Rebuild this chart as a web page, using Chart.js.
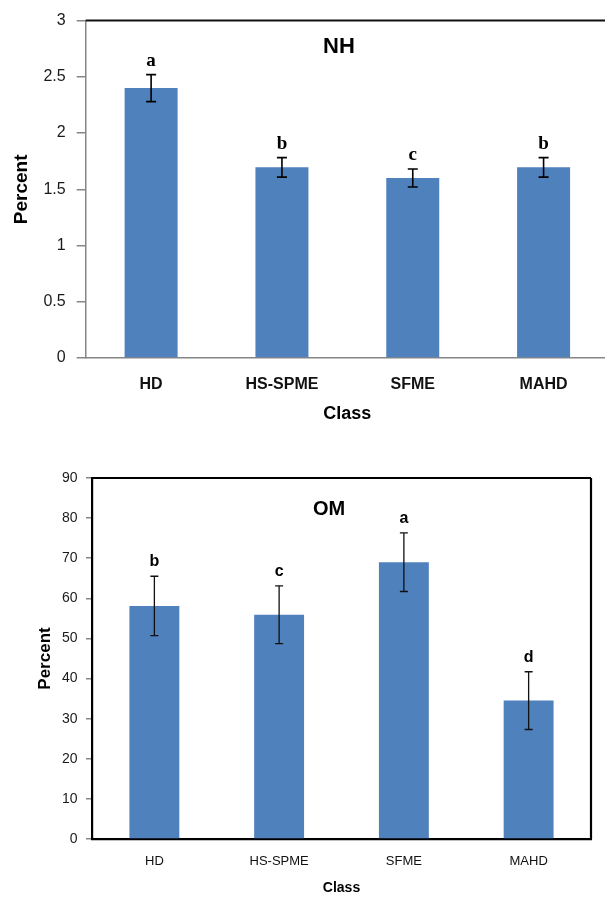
<!DOCTYPE html>
<html>
<head>
<meta charset="utf-8">
<script src="https://cdn.jsdelivr.net/npm/chart.js@4.4.1/dist/chart.umd.min.js"></script>
<style>
  html, body { margin: 0; padding: 0; background: #fff; overflow: hidden; width: 605px; height: 897px; }
  #nh { position: absolute; left: 0; top: 0; }
  #om { position: absolute; left: 0; top: 440px; }
</style>
</head>
<body>
<canvas id="nh" width="620" height="440"></canvas>
<canvas id="om" width="605" height="457"></canvas>
<script>
// data
const classes = ['HD', 'HS-SPME', 'SFME', 'MAHD'];

const nhMeans = [2.40, 1.695, 1.60, 1.695];
const nhErrors = [0.12, 0.087, 0.08, 0.087];
const nhLetters = ['a', 'b', 'c', 'b'];

const omMeans = [58.1, 55.9, 69.0, 34.5];
const omErrors = [7.4, 7.2, 7.3, 7.2];
const omLetters = ['b', 'c', 'a', 'd'];

const barBlue = '#4f81bd';
const sans = "'Liberation Sans', Arial, sans-serif";

// error bars + significance letters above them
const errorBars = {
  id: 'errorBars',
  afterDatasetsDraw(chart, args, opts) {
    const { ctx, scales: { y } } = chart;
    const ds = chart.data.datasets[0];
    ctx.save();
    ctx.strokeStyle = opts.color;
    ctx.lineWidth = opts.lineWidth;
    chart.getDatasetMeta(0).data.forEach((bar, i) => {
      const v = ds.data[i], e = opts.errors[i];
      const top = y.getPixelForValue(v + e);
      const bot = y.getPixelForValue(v - e);
      ctx.beginPath();
      ctx.moveTo(bar.x, top); ctx.lineTo(bar.x, bot);
      ctx.moveTo(bar.x - opts.cap, top); ctx.lineTo(bar.x + opts.cap, top);
      ctx.moveTo(bar.x - opts.cap, bot); ctx.lineTo(bar.x + opts.cap, bot);
      ctx.stroke();
      ctx.font = opts.letterFont;
      ctx.fillStyle = '#000';
      ctx.textAlign = 'center';
      ctx.textBaseline = 'alphabetic';
      ctx.fillText(opts.letters[i], bar.x, top - opts.gap);
    });
    ctx.restore();
  }
};

// title written inside the plot + black frame lines
const panelDeco = {
  id: 'panelDeco',
  afterDraw(chart, args, opts) {
    const { ctx, chartArea: a } = chart;
    ctx.save();
    ctx.font = opts.font;
    ctx.fillStyle = '#000';
    ctx.textAlign = 'center';
    ctx.textBaseline = 'middle';
    ctx.fillText(opts.text, a.left + a.width * opts.xFrac, a.top + opts.dy);

    ctx.strokeStyle = opts.frameColor;
    ctx.lineWidth = opts.frameWidth;
    ctx.beginPath();
    if (opts.sides.includes('top')) { ctx.moveTo(a.left, a.top); ctx.lineTo(a.right, a.top); }
    if (opts.sides.includes('right')) { ctx.moveTo(a.right, a.top); ctx.lineTo(a.right, a.bottom); }
    if (opts.sides.includes('left')) { ctx.moveTo(a.left, a.top); ctx.lineTo(a.left, a.bottom); }
    if (opts.sides.includes('bottom')) { ctx.moveTo(a.left, a.bottom); ctx.lineTo(a.right, a.bottom); }
    ctx.stroke();
    ctx.restore();
  }
};

// top panel: NH
new Chart(document.getElementById('nh'), {
  type: 'bar',
  data: {
    labels: classes,
    datasets: [{
      data: nhMeans,
      backgroundColor: barBlue,
      barPercentage: 0.405,
      categoryPercentage: 1
    }]
  },
  options: {
    responsive: false,
    animation: false,
    layout: { padding: { top: 17.3, right: 11, left: 0, bottom: 0 } },
    plugins: {
      legend: { display: false },
      tooltip: { enabled: false },
      errorBars: {
        errors: nhErrors, letters: nhLetters, color: '#000', lineWidth: 1.6, cap: 5, gap: 9,
        letterFont: "bold 19px 'Liberation Serif', 'Times New Roman', serif"
      },
      panelDeco: {
        text: 'NH', font: 'bold 22px ' + sans, xFrac: 0.484, dy: 26,
        sides: ['top'], frameColor: '#111', frameWidth: 2
      }
    },
    scales: {
      x: {
        grid: { display: false, drawTicks: false },
        border: { color: '#868686', width: 1.5 },
        ticks: { color: '#111', padding: 17, maxRotation: 0, font: { family: sans, size: 16, weight: 'bold' } },
        title: { display: true, text: 'Class', color: '#000', font: { family: sans, size: 18, weight: 'bold' }, padding: { top: 0, bottom: 15 } },
        afterFit: s => { s.height = 82; }
      },
      y: {
        min: 0, max: 3,
        ticks: { stepSize: 0.5, color: '#1a1a1a', padding: 11, font: { family: sans, size: 16 }, callback: v => String(v) },
        grid: { drawOnChartArea: false, drawTicks: true, tickLength: 9, color: '#868686', lineWidth: 1.5 },
        border: { color: '#868686', width: 1.5 },
        title: { display: true, text: 'Percent', color: '#000', font: { family: sans, size: 19, weight: 'bold' }, padding: { top: 10, bottom: 0 } },
        afterFit: s => { s.width = 85.7; }
      }
    }
  },
  plugins: [errorBars, panelDeco]
});

// bottom panel: OM
new Chart(document.getElementById('om'), {
  type: 'bar',
  data: {
    labels: classes,
    datasets: [{
      data: omMeans,
      backgroundColor: barBlue,
      barPercentage: 0.4,
      categoryPercentage: 1
    }]
  },
  options: {
    responsive: false,
    animation: false,
    layout: { padding: { top: 38, right: 14, left: 0, bottom: 0 } },
    plugins: {
      legend: { display: false },
      tooltip: { enabled: false },
      errorBars: {
        errors: omErrors, letters: omLetters, color: '#111', lineWidth: 1.3, cap: 4, gap: 10,
        letterFont: 'bold 16px ' + sans
      },
      panelDeco: {
        text: 'OM', font: 'bold 20px ' + sans, xFrac: 0.475, dy: 31,
        sides: ['top', 'right'], frameColor: '#000', frameWidth: 2.2
      }
    },
    scales: {
      x: {
        grid: { display: false, drawTicks: false },
        border: { color: '#000', width: 2.2 },
        ticks: { color: '#111', padding: 15, maxRotation: 0, font: { family: sans, size: 13 } },
        title: { display: true, text: 'Class', color: '#000', font: { family: sans, size: 14, weight: 'bold' }, padding: { top: 0, bottom: 0 } },
        afterFit: s => { s.height = 58; }
      },
      y: {
        min: 0, max: 90,
        ticks: { stepSize: 10, color: '#1a1a1a', padding: 8.5, font: { family: sans, size: 14 }, callback: v => String(v) },
        grid: { drawOnChartArea: false, drawTicks: true, tickLength: 6, color: '#868686', lineWidth: 1.5 },
        border: { color: '#000', width: 2.2 },
        title: { display: true, text: 'Percent', color: '#000', font: { family: sans, size: 17, weight: 'bold' }, padding: { top: 35.4, bottom: 0 } },
        afterFit: s => { s.width = 92; }
      }
    }
  },
  plugins: [errorBars, panelDeco]
});
</script>
</body>
</html>
